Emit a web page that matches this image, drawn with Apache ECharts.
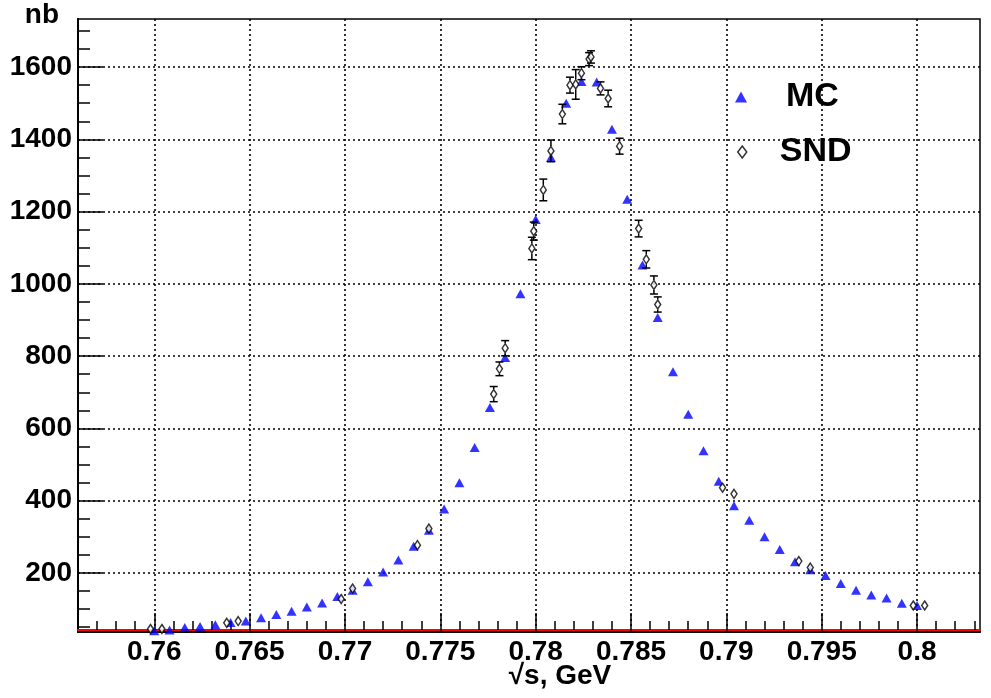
<!DOCTYPE html>
<html><head><meta charset="utf-8">
<script src="https://cdn.jsdelivr.net/npm/echarts@6/dist/echarts.min.js"></script>
<style>html,body{margin:0;padding:0;background:#fff}#c{width:991px;height:698px}</style>
</head><body><div id="c"></div>
<script>
// ---- data ----
const mcX = [0.7600,0.7608,0.7616,0.7624,0.7632,0.7640,0.7648,0.7656,0.7664,0.7672,
  0.7680,0.7688,0.7696,0.7704,0.7712,0.7720,0.7728,0.7736,0.7744,0.7752,
  0.7760,0.7768,0.7776,0.7784,0.7792,0.7800,0.7808,0.7816,0.7824,0.7832,
  0.7840,0.7848,0.7856,0.7864,0.7872,0.7880,0.7888,0.7896,0.7904,0.7912,
  0.7920,0.7928,0.7936,0.7944,0.7952,0.7960,0.7968,0.7976,0.7984,0.7992,0.8000];
const mcY = [40,42,49,52,57,63,67,76,85,94,
  106,117,135,152,176,203,236,274,318,377,
  450,547,658,796,973,1178,1350,1500,1560,1559,
  1428,1234,1052,907,757,639,538,454,386,346,
  300,265,231,209,193,171,152,139,131,116,110];
const sndX = [0.7598,0.7604,0.7638,0.7644,0.7698,0.7704,0.7738,0.7744,0.7778,0.7781,
  0.7784,0.7798,0.7799,0.7804,0.7808,0.7814,0.7818,0.7821,0.7824,0.7828,
  0.7829,0.7834,0.7838,0.7844,0.7854,0.7858,0.7862,0.7864,0.7898,0.7904,
  0.7938,0.7944,0.7998,0.8004];
const sndY = [45,45,62,67,128,157,277,323,695,765,
  822,1098,1146,1260,1368,1470,1550,1552,1583,1622,
  1628,1541,1513,1381,1153,1068,997,943,436,419,
  233,215,110,110];
const sndErr = [3,3,4,4,6,7,8,9,21,19,
  21,31,25,30,30,27,22,41,18,18,
  17,18,23,22,23,24,25,21,8,8,
  6,7,4,4];
const xMajorTicks = [0.760,0.765,0.770,0.775,0.780,0.785,0.790,0.795,0.800];
const xMinorTicks = [0.757,0.758,0.759,0.760,0.761,0.762,0.763,0.764,0.765,0.766,0.767,0.768,0.769,
  0.770,0.771,0.772,0.773,0.774,0.775,0.776,0.777,0.778,0.779,0.780,0.781,0.782,0.783,0.784,
  0.785,0.786,0.787,0.788,0.789,0.790,0.791,0.792,0.793,0.794,0.795,0.796,0.797,0.798,0.799,
  0.800,0.801,0.802,0.803];
const yMajorTicks = [200,400,600,800,1000,1200,1400,1600];
const yMinorTicks = [50,100,150,200,250,300,350,400,450,500,550,600,650,700,750,800,850,900,
  950,1000,1050,1100,1150,1200,1250,1300,1350,1400,1450,1500,1550,1600,1650,1700];
const xRange = [0.7560, 0.8033];
const yRange = [36.7, 1733];
const seriesNames = ['MC', 'SND'];
const xTitle = '\u221As, GeV';
const yTitle = 'nb';

// ---- chart ----
const FONT = '"Liberation Sans", Arial, Helvetica, sans-serif';
const chart = echarts.init(document.getElementById('c'), null, {renderer: 'canvas'});
const dotted = {color: '#000', width: 1.6, type: [2, 3]};
const xFmt = v => parseFloat(Number(v).toFixed(4)).toString();
const yFmt = v => String(Math.round(v));

const option = {
  animation: false,
  backgroundColor: '#fff',
  grid: {left: 78, right: 11, top: 19, bottom: 66, show: true, borderColor: '#000', borderWidth: 1.5,
         backgroundColor: 'transparent', containLabel: false, outerBoundsMode: 'none'},
  legend: [
    {data: [{name: seriesNames[0], icon: 'triangle', itemStyle: {color: '#0000ff'}}],
     left: 735, top: 80, padding: 0, itemWidth: 12, itemHeight: 11, selectedMode: false,
     textStyle: {fontSize: 34, fontWeight: 'bold', color: '#000', fontFamily: FONT, padding: [0, 0, 0, 34]}},
    {data: [{name: seriesNames[1], icon: 'diamond', itemStyle: {color: '#fff', borderColor: '#000', borderWidth: 1.5}}],
     left: 737, top: 135, padding: 0, itemWidth: 9, itemHeight: 12, selectedMode: false,
     textStyle: {fontSize: 34, fontWeight: 'bold', color: '#000', fontFamily: FONT, padding: [0, 0, 0, 28]}}
  ],
  xAxis: [
    {type: 'value', min: xRange[0], max: xRange[1], position: 'bottom',
     name: xTitle, nameLocation: 'middle', nameGap: 30, nameMoveOverlap: false,
     nameTextStyle: {fontSize: 28, fontWeight: 'bold', color: '#000', fontFamily: FONT, padding: [0, 0, 0, 62]},
     axisLine: {show: true, lineStyle: {color: '#000', width: 2}},
     axisTick: {show: true, inside: true, length: 19, customValues: xMajorTicks, lineStyle: {color: '#000', width: 1.5}},
     axisLabel: {show: true, customValues: xMajorTicks, formatter: xFmt, margin: 6,
       fontSize: 28, fontWeight: 'bold', color: '#000', fontFamily: FONT},
     splitLine: {show: true, lineStyle: dotted}},
    {type: 'value', min: xRange[0], max: xRange[1], position: 'bottom', offset: -2,
     axisLine: {show: true, lineStyle: {color: '#ff0000', width: 2}},
     axisTick: {show: true, inside: true, length: 9, customValues: xMinorTicks, lineStyle: {color: '#000', width: 1.5}},
     axisLabel: {show: false}, splitLine: {show: false}}
  ],
  yAxis: [
    {type: 'value', min: yRange[0], max: yRange[1], position: 'left',
     name: yTitle, nameLocation: 'end', nameGap: -10, nameMoveOverlap: false,
     nameTextStyle: {fontSize: 28, fontWeight: 'bold', color: '#000', fontFamily: FONT, align: 'right', verticalAlign: 'bottom', padding: [0, 19, 0, 0]},
     axisLine: {show: true, lineStyle: {color: '#000', width: 2}},
     axisTick: {show: true, inside: true, length: 25, customValues: yMajorTicks, lineStyle: {color: '#000', width: 1.5}},
     axisLabel: {show: true, customValues: yMajorTicks, formatter: yFmt, margin: 6, padding: [6, 0, 0, 0],
       fontSize: 28, fontWeight: 'bold', color: '#000', fontFamily: FONT},
     splitLine: {show: true, lineStyle: dotted}},
    {type: 'value', min: yRange[0], max: yRange[1], position: 'left',
     axisLine: {show: false},
     axisTick: {show: true, inside: true, length: 12, customValues: yMinorTicks, lineStyle: {color: '#000', width: 1.5}},
     axisLabel: {show: false}, splitLine: {show: false}}
  ],
  series: [
    {name: seriesNames[0], type: 'scatter', xAxisIndex: 0, yAxisIndex: 0,
     data: mcX.map((x, i) => [x, mcY[i]]),
     symbol: 'triangle', symbolSize: [10, 9],
     itemStyle: {color: '#0000ff'}, z: 2},
    {name: 'SND errors', type: 'custom', xAxisIndex: 0, yAxisIndex: 0,
     data: sndX.map((x, i) => [x, sndY[i], sndErr[i]]),
     z: 3,
     renderItem: function (params, api) {
       const x = api.value(0), y = api.value(1), e = api.value(2);
       const c = api.coord([x, y]);
       const top = api.coord([x, y + e]);
       const bot = api.coord([x, y - e]);
       const gap = 5, cap = 4;
       const st = {stroke: '#000', lineWidth: 1.5};
       const ch = [];
       if (c[1] - top[1] > gap) {
         ch.push({type: 'line', shape: {x1: c[0], y1: c[1] - gap, x2: c[0], y2: top[1]}, style: st});
         ch.push({type: 'line', shape: {x1: c[0] - cap, y1: top[1], x2: c[0] + cap, y2: top[1]}, style: st});
       }
       if (bot[1] - c[1] > gap) {
         ch.push({type: 'line', shape: {x1: c[0], y1: c[1] + gap, x2: c[0], y2: bot[1]}, style: st});
         ch.push({type: 'line', shape: {x1: c[0] - cap, y1: bot[1], x2: c[0] + cap, y2: bot[1]}, style: st});
       }
       return {type: 'group', children: ch};
     }},
    {name: seriesNames[1], type: 'scatter', xAxisIndex: 0, yAxisIndex: 0,
     data: sndX.map((x, i) => [x, sndY[i]]),
     symbol: 'diamond', symbolSize: [6, 9],
     itemStyle: {color: '#fff', borderColor: '#000', borderWidth: 1.5}, z: 4}
  ]
};
chart.setOption(option);
</script>
</body></html>
